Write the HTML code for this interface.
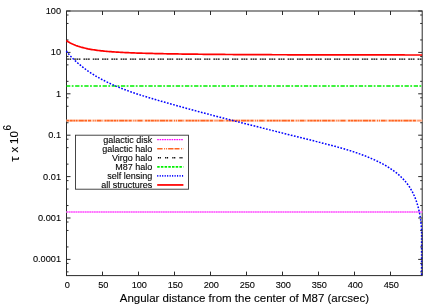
<!DOCTYPE html><html><head><meta charset="utf-8"><style>html,body{margin:0;padding:0;background:#fff}svg{display:block;will-change:transform;filter:blur(0.3px)}text{font-family:"Liberation Sans",sans-serif;fill:#000;stroke:#000;stroke-width:0.1px}</style></head><body>
<svg width="436" height="305" viewBox="0 0 436 305">
<rect width="436" height="305" fill="#fff"/>
<rect x="66.5" y="11.0" width="355.7" height="264.6" fill="none" stroke="#2a2a2a" stroke-width="1"/>
<path d="M66.5 11.00h4M422.2 11.00h-4M66.5 39.94h2M422.2 39.94h-2M66.5 23.46h2M422.2 23.46h-2M66.5 15.01h2M422.2 15.01h-2M66.5 52.40h4M422.2 52.40h-4M66.5 81.34h2M422.2 81.34h-2M66.5 64.86h2M422.2 64.86h-2M66.5 56.41h2M422.2 56.41h-2M66.5 93.80h4M422.2 93.80h-4M66.5 122.74h2M422.2 122.74h-2M66.5 106.26h2M422.2 106.26h-2M66.5 97.81h2M422.2 97.81h-2M66.5 135.20h4M422.2 135.20h-4M66.5 164.14h2M422.2 164.14h-2M66.5 147.66h2M422.2 147.66h-2M66.5 139.21h2M422.2 139.21h-2M66.5 176.60h4M422.2 176.60h-4M66.5 205.54h2M422.2 205.54h-2M66.5 189.06h2M422.2 189.06h-2M66.5 180.61h2M422.2 180.61h-2M66.5 218.00h4M422.2 218.00h-4M66.5 246.94h2M422.2 246.94h-2M66.5 230.46h2M422.2 230.46h-2M66.5 222.01h2M422.2 222.01h-2M66.5 259.40h4M422.2 259.40h-4M66.5 271.86h2M422.2 271.86h-2M66.5 263.41h2M422.2 263.41h-2M66.50 275.6v-4M66.50 11.0v4M102.50 275.6v-4M102.50 11.0v4M138.50 275.6v-4M138.50 11.0v4M174.50 275.6v-4M174.50 11.0v4M210.50 275.6v-4M210.50 11.0v4M246.50 275.6v-4M246.50 11.0v4M282.50 275.6v-4M282.50 11.0v4M318.50 275.6v-4M318.50 11.0v4M354.50 275.6v-4M354.50 11.0v4M390.50 275.6v-4M390.50 11.0v4" stroke="#2a2a2a" stroke-width="1" fill="none"/>
<path d="M66.50 212.00H422.20" stroke="#ffc0ff" stroke-width="1.8" fill="none"/>
<path d="M66.50 212.00H422.20" stroke="#ff28ff" stroke-width="1.2" stroke-dasharray="1.5 0.8" stroke-dashoffset="0" fill="none"/>
<path d="M66.50 120.70H422.20" stroke="#ffd9c8" stroke-width="2.2" fill="none"/>
<path d="M66.50 120.70H422.20" stroke="#ff6420" stroke-width="1.8" stroke-dasharray="2.6 0.6 3.0 0.6 2.1 0.6 1.6 1.0 5.2 0.6 2.6 1.0 3.1 1.7 0.9 1.0 1.0 1.1 4.6 0.5 0.5 2.1 2.1 0.5" stroke-dashoffset="0" fill="none"/>
<path d="M66.50 59.10H422.20" stroke="#000" stroke-width="1.4" stroke-dasharray="1.67 0.61 1.67 0.61 1.67 3.05" stroke-dashoffset="1.58" fill="none"/>
<path d="M66.50 86.00H422.20" stroke="#00f000" stroke-width="1.7" stroke-dasharray="4.3 1.45 1.8 1.6" stroke-dashoffset="0.5" fill="none"/>
<path d="M66.50 50.91L67.01 52.15L68.07 53.38L69.15 54.58L70.24 55.76L71.35 56.92L72.47 58.06L73.60 59.17L74.74 60.27L75.89 61.34L77.06 62.40L78.24 63.44L79.43 64.45L80.63 65.45L81.84 66.43L83.06 67.39L84.30 68.34L85.54 69.26L86.80 70.17L88.06 71.06L89.34 71.94L90.62 72.79L91.91 73.64L93.22 74.46L94.53 75.27L95.85 76.07L97.18 76.85L98.52 77.61L99.87 78.37L101.22 79.10L102.58 79.83L103.95 80.54L105.33 81.24L106.72 81.92L108.11 82.60L109.51 83.26L110.91 83.91L112.33 84.54L113.74 85.17L115.17 85.79L116.60 86.39L118.03 86.99L119.47 87.57L120.92 88.15L122.37 88.71L123.83 89.27L125.29 89.82L126.75 90.36L128.22 90.89L129.69 91.42L131.17 91.93L132.65 92.44L134.13 92.95L135.62 93.45L137.11 93.94L138.60 94.42L140.10 94.90L141.60 95.38L143.09 95.85L144.60 96.31L146.10 96.77L147.60 97.23L149.11 97.68L150.62 98.13L152.12 98.58L153.63 99.03L155.14 99.47L156.65 99.91L158.16 100.35L159.67 100.78L161.18 101.22L162.68 101.65L164.19 102.08L165.70 102.52L167.21 102.94L168.72 103.37L170.23 103.80L171.74 104.22L173.24 104.65L174.75 105.07L176.26 105.49L177.77 105.91L179.28 106.33L180.78 106.75L182.29 107.17L183.80 107.58L185.31 108.00L186.82 108.41L188.32 108.82L189.83 109.23L191.34 109.64L192.85 110.05L194.35 110.46L195.86 110.86L197.37 111.27L198.88 111.67L200.38 112.08L201.89 112.48L203.40 112.88L204.91 113.28L206.41 113.68L207.92 114.08L209.43 114.48L210.94 114.87L212.44 115.27L213.95 115.66L215.46 116.06L216.97 116.45L218.47 116.84L219.98 117.24L221.49 117.63L223.00 118.02L224.50 118.41L226.01 118.80L227.52 119.19L229.03 119.57L230.53 119.96L232.04 120.35L233.55 120.73L235.06 121.12L236.57 121.50L238.07 121.89L239.58 122.27L241.09 122.66L242.60 123.04L244.11 123.42L245.62 123.80L247.13 124.18L248.63 124.57L250.14 124.95L251.65 125.33L253.16 125.71L254.67 126.09L256.18 126.47L257.69 126.85L259.20 127.23L260.71 127.60L262.22 127.98L263.73 128.36L265.24 128.74L266.75 129.12L268.26 129.50L269.77 129.87L271.28 130.25L272.79 130.63L274.30 131.01L275.81 131.38L277.32 131.76L278.83 132.14L280.35 132.51L281.86 132.89L283.37 133.27L284.88 133.65L286.39 134.02L287.91 134.40L289.42 134.78L290.93 135.16L292.44 135.54L293.96 135.91L295.47 136.29L296.98 136.67L298.50 137.05L300.01 137.43L301.52 137.81L303.04 138.19L304.55 138.57L306.07 138.95L307.58 139.33L309.10 139.71L310.61 140.09L312.13 140.47L313.64 140.85L315.16 141.24L316.68 141.62L318.19 142.00L319.71 142.39L321.23 142.77L322.74 143.16L324.26 143.54L325.78 143.93L327.30 144.32L328.81 144.71L330.33 145.10L331.85 145.50L333.36 145.90L334.87 146.31L336.39 146.72L337.90 147.13L339.41 147.55L340.92 147.97L342.43 148.40L343.94 148.84L345.44 149.28L346.95 149.73L348.45 150.19L349.95 150.65L351.45 151.12L352.94 151.60L354.44 152.09L355.93 152.59L357.42 153.10L358.90 153.62L360.38 154.15L361.86 154.69L363.34 155.25L364.81 155.81L366.29 156.39L367.75 156.98L369.22 157.58L370.67 158.19L372.13 158.82L373.58 159.46L375.03 160.12L376.46 160.79L377.89 161.48L379.32 162.18L380.73 162.90L382.13 163.64L383.52 164.39L384.89 165.16L386.25 165.95L387.60 166.76L388.93 167.59L390.24 168.43L391.54 169.30L392.81 170.18L394.07 171.09L395.30 172.02L396.52 172.96L397.71 173.93L398.87 174.93L400.01 175.94L401.12 176.98L402.21 178.04L403.27 179.13L404.29 180.24L405.29 181.37L406.26 182.53L407.19 183.72L408.09 184.93L408.96 186.16L409.79 187.43L410.59 188.71L411.35 190.02L412.09 191.36L412.79 192.71L413.46 194.08L414.10 195.48L414.71 196.89L415.29 198.32L415.85 199.76L416.37 201.22L416.86 202.70L417.33 204.18L417.77 205.68L418.18 207.20L418.57 208.72L418.93 210.25L419.27 211.79L419.58 213.34L419.87 214.89L420.13 216.45L420.37 218.02L420.59 219.59L420.78 221.16L420.96 222.74L421.12 224.32L421.26 225.91L421.38 227.50L421.49 229.09L421.58 230.68L421.60 232.27L421.60 233.86L421.60 235.46L421.60 237.05L421.60 238.65L421.60 240.24L421.60 241.84L421.60 243.43L421.60 245.02L421.60 246.61L421.60 248.19L421.60 249.78L421.60 251.36L421.60 252.93L421.60 254.50L421.60 256.07L421.60 257.63L421.60 259.19L421.60 260.74L421.60 262.28L421.60 263.82L421.60 265.35L421.60 266.87L421.60 268.39L421.60 269.90L421.60 271.40L421.60 272.89L421.60 274.37L421.60 275.60" stroke="#0000ff" stroke-width="1.5" stroke-dasharray="1.7 1.5" fill="none"/>
<path d="M66.50 40.37L67.01 41.05L68.07 41.70L69.15 42.32L70.24 42.91L71.35 43.47L72.47 44.00L73.60 44.50L74.74 44.97L75.89 45.43L77.06 45.85L78.24 46.26L79.43 46.64L80.63 47.01L81.84 47.35L83.06 47.68L84.30 47.99L85.54 48.28L86.80 48.56L88.06 48.83L89.34 49.07L90.62 49.31L91.91 49.54L93.22 49.75L94.53 49.95L95.85 50.14L97.18 50.32L98.52 50.49L99.87 50.66L101.22 50.81L102.58 50.96L103.95 51.10L105.33 51.24L106.72 51.36L108.11 51.48L109.51 51.60L110.91 51.71L112.33 51.81L113.74 51.91L115.17 52.01L116.60 52.10L118.03 52.19L119.47 52.27L120.92 52.35L122.37 52.43L123.83 52.50L125.29 52.57L126.75 52.64L128.22 52.70L129.69 52.76L131.17 52.82L132.65 52.88L134.13 52.94L135.62 52.99L137.11 53.04L138.60 53.09L140.10 53.14L141.60 53.18L143.09 53.23L144.60 53.27L146.10 53.31L147.60 53.35L149.11 53.39L150.62 53.43L152.12 53.47L153.63 53.50L155.14 53.54L156.65 53.57L158.16 53.60L159.67 53.64L161.18 53.67L162.68 53.70L164.19 53.73L165.70 53.76L167.21 53.78L168.72 53.81L170.23 53.84L171.74 53.86L173.24 53.89L174.75 53.92L176.26 53.94L177.77 53.96L179.28 53.99L180.78 54.01L182.29 54.03L183.80 54.05L185.31 54.07L186.82 54.09L188.32 54.11L189.83 54.13L191.34 54.15L192.85 54.17L194.35 54.19L195.86 54.21L197.37 54.22L198.88 54.24L200.38 54.26L201.89 54.27L203.40 54.29L204.91 54.30L206.41 54.32L207.92 54.33L209.43 54.35L210.94 54.36L212.44 54.37L213.95 54.39L215.46 54.40L216.97 54.41L218.47 54.42L219.98 54.44L221.49 54.45L223.00 54.46L224.50 54.47L226.01 54.48L227.52 54.49L229.03 54.50L230.53 54.51L232.04 54.52L233.55 54.53L235.06 54.54L236.57 54.55L238.07 54.56L239.58 54.57L241.09 54.58L242.60 54.59L244.11 54.60L245.62 54.60L247.13 54.61L248.63 54.62L250.14 54.63L251.65 54.64L253.16 54.64L254.67 54.65L256.18 54.66L257.69 54.66L259.20 54.67L260.71 54.68L262.22 54.68L263.73 54.69L265.24 54.70L266.75 54.70L268.26 54.71L269.77 54.71L271.28 54.72L272.79 54.73L274.30 54.73L275.81 54.74L277.32 54.74L278.83 54.75L280.35 54.75L281.86 54.76L283.37 54.76L284.88 54.77L286.39 54.77L287.91 54.78L289.42 54.78L290.93 54.78L292.44 54.79L293.96 54.79L295.47 54.80L296.98 54.80L298.50 54.81L300.01 54.81L301.52 54.81L303.04 54.82L304.55 54.82L306.07 54.82L307.58 54.83L309.10 54.83L310.61 54.83L312.13 54.84L313.64 54.84L315.16 54.84L316.68 54.85L318.19 54.85L319.71 54.85L321.23 54.86L322.74 54.86L324.26 54.86L325.78 54.86L327.30 54.87L328.81 54.87L330.33 54.87L331.85 54.87L333.36 54.88L334.87 54.88L336.39 54.88L337.90 54.88L339.41 54.89L340.92 54.89L342.43 54.89L343.94 54.89L345.44 54.90L346.95 54.90L348.45 54.90L349.95 54.90L351.45 54.91L352.94 54.91L354.44 54.91L355.93 54.91L357.42 54.92L358.90 54.92L360.38 54.92L361.86 54.92L363.34 54.92L364.81 54.93L366.29 54.93L367.75 54.93L369.22 54.93L370.67 54.93L372.13 54.94L373.58 54.94L375.03 54.94L376.46 54.94L377.89 54.94L379.32 54.95L380.73 54.95L382.13 54.95L383.52 54.95L384.89 54.95L386.25 54.95L387.60 54.96L388.93 54.96L390.24 54.96L391.54 54.96L392.81 54.96L394.07 54.96L395.30 54.96L396.52 54.97L397.71 54.97L398.87 54.97L400.01 54.97L401.12 54.97L402.21 54.97L403.27 54.97L404.29 54.97L405.29 54.98L406.26 54.98L407.19 54.98L408.09 54.98L408.96 54.98L409.79 54.98L410.59 54.98L411.35 54.98L412.09 54.98L412.79 54.98L413.46 54.98L414.10 54.98L414.71 54.98L415.29 54.99L415.85 54.99L416.37 54.99L416.86 54.99L417.33 54.99L417.77 54.99L418.18 54.99L418.57 54.99L418.93 54.99L419.27 54.99L419.58 54.99L419.87 54.99L420.13 54.99L420.37 54.99L420.59 54.99L420.78 54.99L420.96 54.99L421.12 54.99L421.26 54.99L421.38 54.99L421.49 54.99L421.58 54.99L421.60 54.99L421.60 54.99L421.60 54.99L421.60 54.99L421.60 54.99L421.60 54.99L421.60 54.99L421.60 54.99L421.60 54.99L421.60 54.99L421.60 54.99L421.60 54.99L421.60 54.99L421.60 54.99L421.60 54.99L421.60 54.99L421.60 54.99L421.60 54.99L421.60 54.99L421.60 54.99L421.60 54.99L421.60 54.99L421.60 54.99L421.60 54.99L421.60 54.99L421.60 54.99L421.60 54.99L421.60 54.99L421.60 54.99L422.20 54.99" stroke="#ff0000" stroke-width="1.7" fill="none"/>
<path d="M422.2 232V275.6" stroke="#2a2a2a" stroke-width="1" stroke-opacity="0.55" fill="none"/>
<text x="61" y="13.95" font-size="9.2" text-anchor="end">100</text>
<text x="61" y="55.35" font-size="9.2" text-anchor="end">10</text>
<text x="61" y="96.75" font-size="9.2" text-anchor="end">1</text>
<text x="61" y="138.15" font-size="9.2" text-anchor="end">0.1</text>
<text x="61" y="179.55" font-size="9.2" text-anchor="end">0.01</text>
<text x="61" y="220.95" font-size="9.2" text-anchor="end">0.001</text>
<text x="61" y="262.35" font-size="9.2" text-anchor="end">0.0001</text>
<text x="67.30" y="288.2" font-size="9.2" text-anchor="middle">0</text>
<text x="103.30" y="288.2" font-size="9.2" text-anchor="middle">50</text>
<text x="139.30" y="288.2" font-size="9.2" text-anchor="middle">100</text>
<text x="175.30" y="288.2" font-size="9.2" text-anchor="middle">150</text>
<text x="211.30" y="288.2" font-size="9.2" text-anchor="middle">200</text>
<text x="247.30" y="288.2" font-size="9.2" text-anchor="middle">250</text>
<text x="283.30" y="288.2" font-size="9.2" text-anchor="middle">300</text>
<text x="319.30" y="288.2" font-size="9.2" text-anchor="middle">350</text>
<text x="355.30" y="288.2" font-size="9.2" text-anchor="middle">400</text>
<text x="391.30" y="288.2" font-size="9.2" text-anchor="middle">450</text>
<text x="244.4" y="302.2" font-size="11.5" text-anchor="middle">Angular distance from the center of M87 (arcsec)</text>
<g transform="translate(18.4,0) rotate(-90)"><text x="-161.8" y="0.6" font-size="13.5">τ</text><text x="-152.5" y="0" font-size="11.5">x</text><text x="-144" y="0" font-size="11.5">10</text><text x="-130.4" y="-7.7" font-size="10">6</text></g>
<rect x="75.5" y="135.2" width="113.0" height="54.0" fill="#fff" stroke="#333" stroke-width="0.9"/>
<text x="152.3" y="142.75" font-size="9.0" text-anchor="end">galactic disk</text>
<path d="M157.2 139.70H183.4" stroke="#ff00ff" stroke-width="1.3" stroke-dasharray="1.6 0.8" stroke-dashoffset="0" fill="none"/>
<text x="152.3" y="151.80" font-size="9.0" text-anchor="end">galactic halo</text>
<path d="M157.2 148.75H183.4" stroke="#ff6420" stroke-width="1.5" stroke-dasharray="5.4 1.5 1 1 1 1 5.4 1 5 1.6 1 1 1 1" stroke-dashoffset="0" fill="none"/>
<text x="152.3" y="160.85" font-size="9.0" text-anchor="end">Virgo halo</text>
<path d="M157.2 157.80H183.4" stroke="#000" stroke-width="1.4" stroke-dasharray="1.2 0.6 1.2 4.2" stroke-dashoffset="-0.7" fill="none"/>
<text x="152.3" y="169.90" font-size="9.0" text-anchor="end">M87 halo</text>
<path d="M157.2 166.85H183.4" stroke="#00f000" stroke-width="1.6" stroke-dasharray="2.5 1.2" stroke-dashoffset="0" fill="none"/>
<text x="152.3" y="178.95" font-size="9.0" text-anchor="end">self lensing</text>
<path d="M157.2 175.90H183.4" stroke="#0000ff" stroke-width="1.6" stroke-dasharray="1.1 1.38" stroke-dashoffset="0" fill="none"/>
<text x="152.3" y="188.00" font-size="9.0" text-anchor="end">all structures</text>
<path d="M157.2 184.95H183.4" stroke="#ff0000" stroke-width="1.75" fill="none"/>
</svg></body></html>
